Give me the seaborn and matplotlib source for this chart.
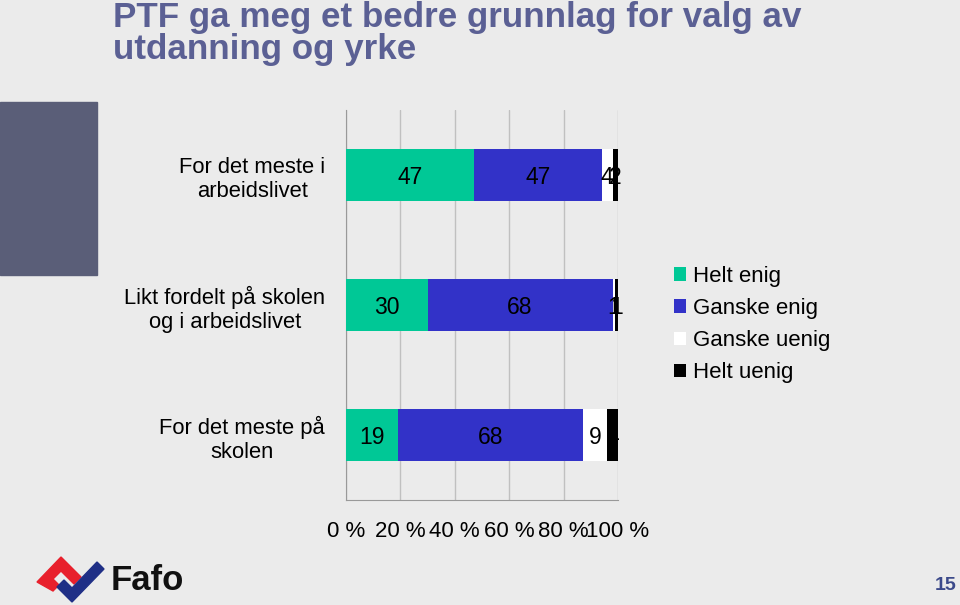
import matplotlib
matplotlib.use('Agg')
import matplotlib.pyplot as plt
import seaborn as sns
import pandas as pd
import numpy as np
from matplotlib.patches import Patch, Polygon, Rectangle

sns.set_style('white')
plt.rcParams['font.family'] = ['Liberation Sans', 'DejaVu Sans']
plt.rcParams['text.color'] = 'black'
plt.rcParams['xtick.labelcolor'] = 'black'
plt.rcParams['ytick.labelcolor'] = 'black'

categories = ['For det meste i\narbeidslivet',
              'Likt fordelt på skolen\nog i arbeidslivet',
              'For det meste på\nskolen']
series = ['Helt enig', 'Ganske enig', 'Ganske uenig', 'Helt uenig']
helt_enig = [47, 30, 19]
ganske_enig = [47, 68, 68]
ganske_uenig = [4, 1, 9]
helt_uenig = [2, 1, 4]
colors = ['#00c896', '#3232c8', '#ffffff', '#000000']
x_ticks = [0, 20, 40, 60, 80, 100]
x_tick_labels = ['0 %', '20 %', '40 %', '60 %', '80 %', '100 %']

bg = '#ebebeb'

df = pd.DataFrame({'kategori': categories,
                   'Helt enig': helt_enig,
                   'Ganske enig': ganske_enig,
                   'Ganske uenig': ganske_uenig,
                   'Helt uenig': helt_uenig})
cum = df[series].cumsum(axis=1)

fig = plt.figure(figsize=(9.6, 6.05), dpi=100, facecolor=bg)

# decoration layer in pixel coords
deco = fig.add_axes([0, 0, 1, 1], zorder=0)
deco.set_xlim(0, 960)
deco.set_ylim(605, 0)
deco.axis('off')
deco.add_patch(Rectangle((0, 102), 97, 173, color='#5a5e78'))
deco.text(113, 1, 'PTF ga meg et bedre grunnlag for valg av\nutdanning og yrke',
          fontsize=25.2, fontweight='bold', color='#5b6094', va='top', ha='left',
          linespacing=0.97)
deco.add_patch(Polygon([(37, 582), (61, 557), (81, 577), (74, 584), (61, 571),
                        (53, 579), (59, 585), (53, 591)], color='#e8202c'))
deco.add_patch(Polygon([(57, 587), (72, 602), (104, 569), (97, 562), (72, 588),
                        (64, 580)], color='#1f2f86'))
deco.text(111, 580, 'Fafo', fontsize=25, fontweight='bold', color='#111111',
          va='center', ha='left')
deco.text(957, 586, '15', fontsize=14, fontweight='bold', color='#3c4a8a',
          va='center', ha='right')

ax = fig.add_axes([346 / 960, 105 / 605, 272 / 960, 390 / 605], zorder=1)
ax.set_facecolor(bg)

for s, c in reversed(list(zip(series, colors))):
    sns.barplot(x=cum[s], y=df['kategori'], orient='h', color=c, width=0.4,
                saturation=1, linewidth=0, ax=ax, zorder=3)

ax.set_xlim(0, 100)
ax.set_ylim(2.5, -0.5)
ax.set_xticks(x_ticks)
ax.set_xticklabels(x_tick_labels, fontsize=16)
ax.set_yticks(range(len(categories)))
ax.set_yticklabels(categories, fontsize=15.8, multialignment='center')
ax.set_yticks([-0.5, 0.5, 1.5, 2.5], minor=True)
ax.tick_params(axis='y', which='major', length=0, pad=15)
ax.tick_params(axis='y', which='minor', length=6, color='#999999', direction='out')
ax.tick_params(axis='x', length=8, color='#999999', direction='out', pad=7)
ax.set_xlabel('')
ax.set_ylabel('')
ax.xaxis.grid(True, color='#c0c0c0', linewidth=1, zorder=0)
ax.set_axisbelow(True)
for side in ['top', 'right']:
    ax.spines[side].set_visible(False)
for side in ['left', 'bottom']:
    ax.spines[side].set_color('#999999')

# value labels
for i in range(len(categories)):
    left = 0
    for s in series:
        v = df[s][i]
        ax.text(left + v / 2, i, str(v), ha='center', va='center_baseline',
                fontsize=16.5, color='black', zorder=4)
        left += v

handles = [Patch(facecolor=c, edgecolor='none') for c in colors]
fig.legend(handles, series, loc='upper left', bbox_to_anchor=(665 / 960, 1 - 257 / 605),
           frameon=False, fontsize=16, handlelength=0.55, handleheight=0.55,
           handletextpad=0.3, labelspacing=0.5, borderaxespad=0)

fig.savefig('out.png', dpi=100, facecolor=bg)
